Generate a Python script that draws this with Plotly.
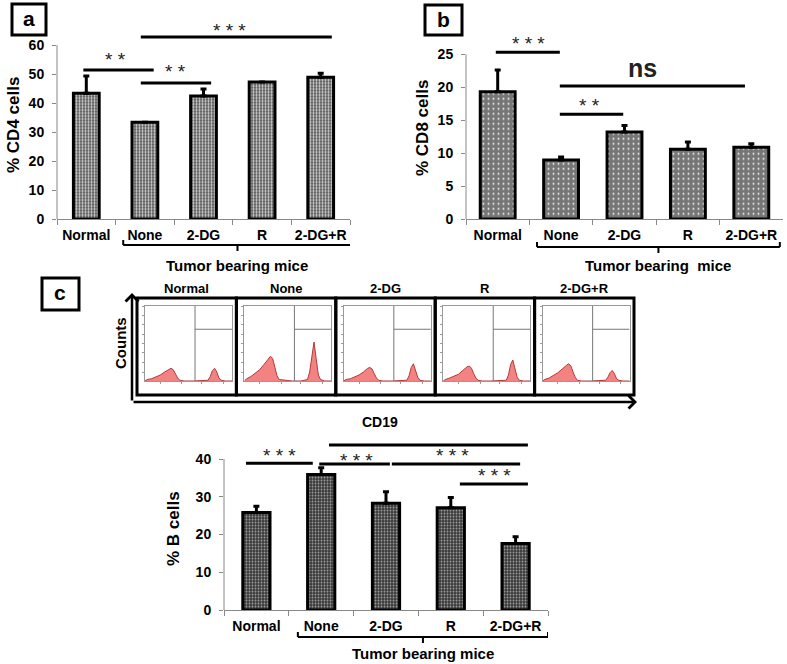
import plotly.graph_objects as go

# ---------------- data ----------------
categories = ["Normal", "None", "2-DG", "R", "2-DG+R"]

cd4_values = [43.4, 33.4, 42.4, 47.2, 48.9]
cd4_err = [5.9, 0.0, 2.4, 0.0, 1.4]

cd8_values = [19.3, 8.95, 13.2, 10.6, 10.9]
cd8_err = [3.3, 0.45, 1.0, 1.1, 0.5]

bcell_values = [25.8, 35.9, 28.3, 27.1, 17.6]
bcell_err = [1.7, 1.8, 3.0, 2.7, 1.8]

cd4_ticks = [0, 10, 20, 30, 40, 50, 60]
cd8_ticks = [0, 5, 10, 15, 20, 25]
bcell_ticks = [0, 10, 20, 30, 40]

# flow cytometry histograms (CD19, log decades)
hist_x = [0.0, 0.1, 0.3, 0.5, 0.7, 0.9, 1.0, 1.1, 1.2, 1.3, 1.4, 1.5, 1.6, 1.8,
          2.2, 2.6, 2.9, 3.0, 3.1, 3.2, 3.3, 3.4, 3.5, 3.7, 4.0]
hist_normal = [0, 0.02, 0.03, 0.05, 0.08, 0.12, 0.14, 0.16, 0.17, 0.15, 0.09, 0.04, 0.01, 0,
               0, 0, 0.01, 0.06, 0.14, 0.17, 0.12, 0.04, 0.01, 0, 0]
hist_none = [0, 0.03, 0.06, 0.10, 0.15, 0.22, 0.26, 0.30, 0.33, 0.30, 0.18, 0.07, 0.02, 0.01,
             0, 0, 0.02, 0.12, 0.35, 0.52, 0.30, 0.08, 0.02, 0, 0]
hist_2dg = [0, 0.02, 0.03, 0.05, 0.08, 0.12, 0.15, 0.17, 0.18, 0.16, 0.10, 0.04, 0.01, 0,
            0, 0, 0.01, 0.07, 0.18, 0.23, 0.15, 0.05, 0.01, 0, 0]
hist_r = [0, 0.02, 0.04, 0.06, 0.09, 0.14, 0.17, 0.19, 0.20, 0.17, 0.10, 0.04, 0.01, 0,
          0, 0, 0.01, 0.08, 0.22, 0.28, 0.17, 0.05, 0.01, 0, 0]
hist_2dgr = [0, 0.02, 0.04, 0.07, 0.11, 0.16, 0.19, 0.21, 0.23, 0.20, 0.12, 0.05, 0.01, 0,
             0, 0, 0.01, 0.05, 0.11, 0.14, 0.10, 0.03, 0.01, 0, 0]
hist_series = [hist_normal, hist_none, hist_2dg, hist_r, hist_2dgr]

# ---------------- helpers ----------------
W, H = 787, 664
FONT = "Liberation Sans, Arial, sans-serif"


def px(x):
    return x / W


def py(y):
    return 1 - y / H


fig = go.Figure()
shapes = []
annotations = []


def label(xref, yref, x, y, text, size, bold=True, color="black", angle=0):
    annotations.append(dict(xref=xref, yref=yref, x=x, y=y, text=text, showarrow=False,
                            xanchor="center", yanchor="middle", textangle=angle,
                            font=dict(family=FONT, size=size, color=color,
                                      weight="bold" if bold else "normal")))


def bar_trace(vals, errs, xa, ya, width, bg, fg, size, solidity):
    return go.Bar(
        x=categories, y=vals, width=width, xaxis=xa, yaxis=ya, showlegend=False,
        marker=dict(color=bg, line=dict(color="black", width=3),
                    pattern=dict(shape=".", fgcolor=fg, bgcolor=bg, size=size,
                                 solidity=solidity, fillmode="replace")),
        error_y=dict(type="data", array=errs, arrayminus=[0] * len(errs), symmetric=False,
                     color="black", thickness=3, width=3),
    )


fig.add_trace(bar_trace(cd4_values, cd4_err, "x", "y", 0.44, "#4e4e4e", "#d6d6d6", 3, 0.45))
fig.add_trace(bar_trace(cd8_values, cd8_err, "x2", "y2", 0.55, "#767676", "#f2f2f2", 5, 0.12))
fig.add_trace(bar_trace(bcell_values, bcell_err, "x3", "y3", 0.42, "#363636", "#a0a0a0", 3, 0.35))


def xaxis_cfg(x0, x1, anchor):
    return dict(domain=[px(x0), px(x1)], anchor=anchor, type="category",
                tickson="boundaries", ticks="outside", ticklen=5, tickcolor="#888",
                showline=True, linecolor="#888", linewidth=1, showgrid=False,
                zeroline=False, range=[-0.5, 4.5], ticklabelstandoff=3, tickangle=0,
                automargin=False,
                tickfont=dict(family=FONT, size=14, color="black", weight="bold"))


def yaxis_cfg(ybot, ytop, anchor, rng, ticks):
    return dict(domain=[py(ybot), py(ytop)], anchor=anchor, range=rng, tickvals=ticks,
                ticks="outside", ticklen=4, tickcolor="#888", showline=False,
                showgrid=False, zeroline=False, ticklabelstandoff=5, automargin=False,
                tickfont=dict(family=FONT, size=14, color="black", weight="bold"))


layout_axes = {
    "xaxis": xaxis_cfg(57, 350, "y"),
    "yaxis": yaxis_cfg(219, 219 - 66 * 2.9, "x", [0, 66], cd4_ticks),
    "xaxis2": xaxis_cfg(466, 783, "y2"),
    "yaxis2": yaxis_cfg(219, 219 - 30 * 6.59, "x2", [0, 30], cd8_ticks),
    "xaxis3": xaxis_cfg(224, 548, "y3"),
    "yaxis3": yaxis_cfg(610, 610 - 45 * 3.775, "x3", [0, 45], bcell_ticks),
}

# y axis lines only up to the top tick
for xa, ya, top in [("x", "y", cd4_ticks[-1]), ("x2", "y2", cd8_ticks[-1]), ("x3", "y3", bcell_ticks[-1])]:
    shapes.append(dict(type="line", xref=xa + " domain", x0=0, x1=0, yref=ya, y0=0, y1=top,
                       line=dict(color="#888", width=1)))


def sig_line(xa, ya, x0, x1, y):
    shapes.append(dict(type="line", xref=xa, yref=ya, x0=x0, x1=x1, y0=y, y1=y,
                       line=dict(color="black", width=3)))


def sig_text(xa, ya, x, y, text, size=19, bold=False):
    label(xa, ya, x, y, text, size, bold=bold, color="#222")


# panel a significance
sig_line("x", "y", -0.05, 1.15, 51.4)
sig_line("x", "y", 0.93, 2.13, 46.9)
sig_line("x", "y", 0.93, 4.19, 62.8)
sig_text("x", "y", 0.49, 54.9, "* *")
sig_text("x", "y", 1.53, 50.7, "* *")
sig_text("x", "y", 2.45, 64.9, "* * *")

# panel b significance
sig_line("x2", "y2", -0.03, 0.98, 25.3)
sig_line("x2", "y2", 0.98, 3.9, 20.2)
sig_line("x2", "y2", 0.98, 1.98, 15.9)
sig_text("x2", "y2", 0.48, 26.6, "* * *")
sig_text("x2", "y2", 1.44, 17.15, "* *")
sig_text("x2", "y2", 2.29, 22.9, "ns", size=25, bold=True)

# panel c significance
sig_line("x3", "y3", -0.16, 0.87, 38.9)
sig_line("x3", "y3", 0.97, 2.06, 38.7)
sig_line("x3", "y3", 2.09, 4.07, 38.7)
sig_line("x3", "y3", 1.12, 4.19, 43.7)
sig_line("x3", "y3", 3.14, 4.19, 33.4)
sig_text("x3", "y3", 0.36, 40.8, "* * *")
sig_text("x3", "y3", 1.55, 39.5, "* * *")
sig_text("x3", "y3", 3.03, 40.8, "* * *")
sig_text("x3", "y3", 2.51, 46.1, "* * *")
sig_text("x3", "y3", 3.67, 35.5, "* * *")


def bracket(xa, x0, x1, ypx, text, typx):
    xc = (x0 + x1) / 2
    ln = dict(color="black", width=2)
    shapes.append(dict(type="line", xref=xa, yref="paper", x0=x0, x1=x1, y0=py(ypx), y1=py(ypx), line=ln))
    shapes.append(dict(type="line", xref=xa, yref="paper", x0=x0, x1=x0, y0=py(ypx), y1=py(ypx - 5), line=ln))
    shapes.append(dict(type="line", xref=xa, yref="paper", x0=x1, x1=x1, y0=py(ypx), y1=py(ypx - 5), line=ln))
    shapes.append(dict(type="line", xref=xa, yref="paper", x0=xc, x1=xc, y0=py(ypx), y1=py(ypx + 6), line=ln))
    label(xa, "paper", xc, py(typx), text, 15)


bracket("x", 0.63, 4.53, 245, "Tumor bearing mice", 265)
bracket("x2", 0.62, 4.45, 247, "Tumor bearing\u00a0 mice", 265)
bracket("x3", 0.64, 4.5, 637, "Tumor bearing mice", 653)

# y titles
for x, y, t in [(13, 125, "% CD4 cells"), (423, 128, "% CD8 cells"), (173, 529, "% B cells")]:
    label("paper", "paper", px(x), py(y), t, 17, angle=-90)

# panel letters
for (x0, y0, x1, y1, t) in [(12, 4, 46, 35, "a"), (425, 5, 462, 35, "b"), (42, 278, 79, 310, "c")]:
    shapes.append(dict(type="rect", xref="paper", yref="paper", x0=px(x0), x1=px(x1),
                       y0=py(y1), y1=py(y0), line=dict(color="black", width=3)))
    label("paper", "paper", px((x0 + x1) / 2), py((y0 + y1) / 2 - 1), t, 21)

# ---------------- flow cytometry panel ----------------
box_w = 99.4
for i, (name, vals) in enumerate(zip(categories, hist_series)):
    left = 137 + box_w * i
    n = i + 4
    xa, ya = f"x{n}", f"y{n}"
    fig.add_trace(go.Scatter(x=hist_x, y=vals, mode="lines", fill="tozeroy",
                             fillcolor="rgba(242,118,118,0.9)", line=dict(color="#b33a3a", width=1),
                             xaxis=xa, yaxis=ya, showlegend=False, hoverinfo="skip"))
    layout_axes[f"xaxis{n}"] = dict(domain=[px(left + 8), px(left + 95)], anchor=ya, range=[0, 4],
                                    showline=True, mirror=True, linecolor="#999", linewidth=1,
                                    ticks="outside", ticklen=2, tickcolor="#999",
                                    tickvals=[0.7, 1.7, 2.6, 3.6], showticklabels=False,
                                    showgrid=False, zeroline=False)
    layout_axes[f"yaxis{n}"] = dict(domain=[py(381), py(306)], anchor=xa, range=[0, 1],
                                    showline=True, mirror=True, linecolor="#999", linewidth=1,
                                    ticks="outside", ticklen=2, tickcolor="#999",
                                    tickvals=[0.12, 0.25, 0.38, 0.5, 0.62, 0.75, 0.88, 1.0],
                                    showticklabels=False, showgrid=False, zeroline=False)
    # gates
    shapes.append(dict(type="line", xref=xa, yref=ya, x0=2.3, x1=2.3, y0=0, y1=1,
                       line=dict(color="#777", width=1)))
    shapes.append(dict(type="line", xref=xa, yref=ya, x0=2.3, x1=4, y0=0.69, y1=0.69,
                       line=dict(color="#777", width=1)))
    # outer box
    shapes.append(dict(type="rect", xref="paper", yref="paper", x0=px(left), x1=px(left + box_w),
                       y0=py(395), y1=py(298), line=dict(color="black", width=3)))
    label("paper", "paper", px(left + box_w / 2), py(288), name, 13)

# axes arrows
annotations.append(dict(xref="paper", yref="paper", x=px(132), y=py(293), ax=0, ay=109,
                        text="", showarrow=True, arrowhead=4, arrowsize=1, arrowwidth=2.5,
                        arrowcolor="black"))
annotations.append(dict(xref="paper", yref="paper", x=px(637), y=py(402), ax=-505, ay=0,
                        text="", showarrow=True, arrowhead=4, arrowsize=1, arrowwidth=2.5,
                        arrowcolor="black"))
label("paper", "paper", px(120), py(343), "Counts", 15, angle=-90)
label("paper", "paper", px(380), py(422), "CD19", 14)

fig.update_layout(
    width=W, height=H, margin=dict(l=0, r=0, t=0, b=0, autoexpand=False),
    paper_bgcolor="white", plot_bgcolor="white",
    showlegend=False, bargap=0.5, hovermode=False,
    font=dict(family=FONT, color="black"),
    shapes=shapes, annotations=annotations,
    **layout_axes,
)

fig.write_html("out.html", config={"displayModeBar": False},
               post_script="document.body.style.margin='0px';document.body.style.overflow='hidden';")
